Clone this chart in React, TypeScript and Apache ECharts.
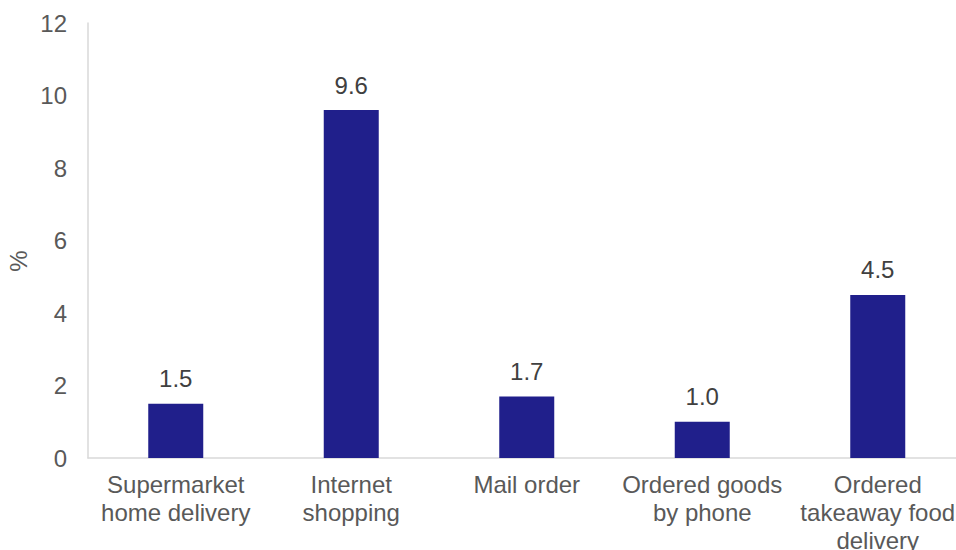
import React, { useEffect, useRef } from "react";
import * as echarts from "echarts";

const categories = [
  "Supermarket\nhome delivery",
  "Internet\nshopping",
  "Mail order",
  "Ordered goods\nby phone",
  "Ordered\ntakeaway food\ndelivery",
];
const values = [1.5, 9.6, 1.7, 1.0, 4.5];
const yTicks = { min: 0, max: 12, interval: 2 };

const FONT = "'Liberation Sans', Arial, sans-serif";
const TEXT = "#595959";
const BAR = "#201f8b";

export default function App() {
  const ref = useRef<HTMLDivElement>(null);
  useEffect(() => {
    if (!ref.current) return;
    const chart = echarts.init(ref.current, undefined, { renderer: "svg" });
    chart.setOption({
      animation: false,
      grid: {
        left: 88,
        top: 23,
        height: 435,
        width: 877.5,
        containLabel: false,
        outerBoundsMode: "none",
      },
      graphic: [
        {
          type: "text",
          x: 18,
          y: 261,
          rotation: Math.PI / 2,
          style: {
            text: "%",
            fill: TEXT,
            font: `24px ${FONT}`,
            textAlign: "center",
            textVerticalAlign: "middle",
          },
        },
      ],
      xAxis: {
        type: "category",
        data: categories,
        axisLine: { show: true, lineStyle: { color: "#d9d9d9", width: 1.5 } },
        axisTick: { show: false },
        axisLabel: {
          color: TEXT,
          fontFamily: FONT,
          fontSize: 24,
          lineHeight: 28,
          margin: 12,
          interval: 0,
        },
      },
      yAxis: {
        type: "value",
        min: yTicks.min,
        max: yTicks.max,
        interval: yTicks.interval,
        axisLine: { show: true, lineStyle: { color: "#d9d9d9", width: 1.5 } },
        axisTick: { show: false },
        splitLine: { show: false },
        axisLabel: {
          color: TEXT,
          fontFamily: FONT,
          fontSize: 24,
          margin: 21,
        },
      },
      series: [
        {
          type: "bar",
          data: values,
          barWidth: 55,
          itemStyle: { color: BAR },
          label: {
            show: true,
            position: "top",
            distance: 13,
            color: "#404040",
            fontFamily: FONT,
            fontSize: 24,
            formatter: (p: any) => Number(p.value).toFixed(1),
          },
        },
      ],
    });
    return () => chart.dispose();
  }, []);
  return (
    <div
      ref={ref}
      style={{ position: "fixed", left: 0, top: 0, width: 956, height: 550, background: "#fff" }}
    />
  );
}
